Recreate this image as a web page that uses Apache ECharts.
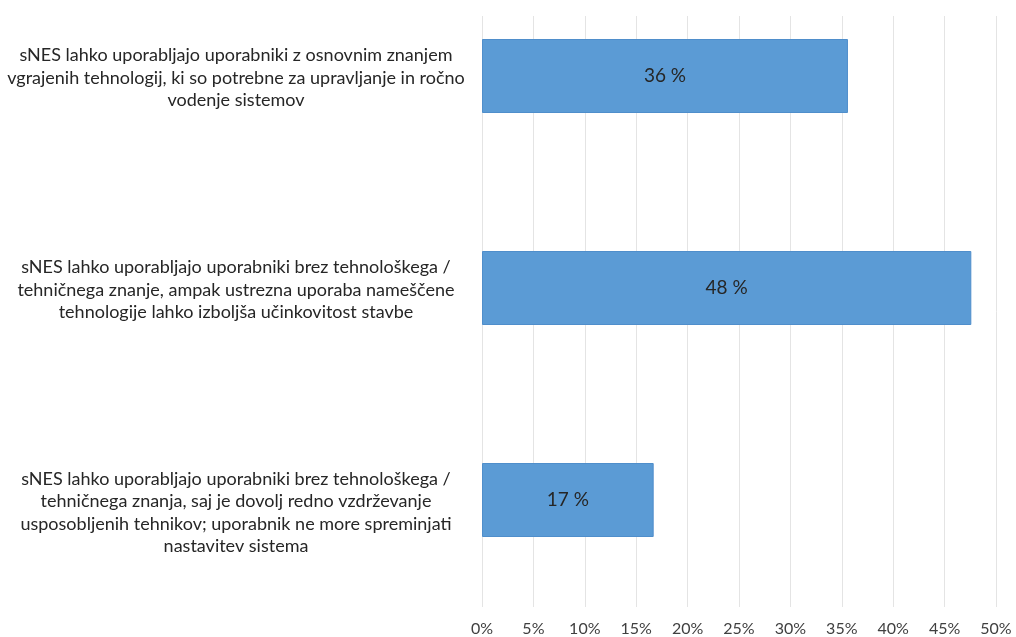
<!DOCTYPE html>
<html>
<head>
<meta charset="utf-8">
<script src="https://cdn.jsdelivr.net/npm/echarts@6/dist/echarts.min.js"></script>
<style>html,body{margin:0;padding:0;background:#fff;}#c{width:1016px;height:637px;}</style>
</head>
<body>
<div id="c"></div>
<script>
const categories = [
  "sNES lahko uporabljajo uporabniki z osnovnim znanjem\nvgrajenih tehnologij, ki so potrebne za upravljanje in ročno\nvodenje sistemov",
  "sNES lahko uporabljajo uporabniki brez tehnološkega /\ntehničnega znanje, ampak ustrezna uporaba nameščene\ntehnologije lahko izboljša učinkovitost stavbe",
  "sNES lahko uporabljajo uporabniki brez tehnološkega /\ntehničnega znanja, saj je dovolj redno vzdrževanje\nusposobljenih tehnikov; uporabnik ne more spreminjati\nnastavitev sistema"
];
const values = [35.6, 47.6, 16.7];
const valueLabels = ["36 %", "48 %", "17 %"];
const tickMin = 0, tickMax = 50, tickStep = 5;

const FONT = 'Lato';
const labelGaps = ['g1', 'g1', 'g3'];
const chart = echarts.init(document.getElementById('c'), null, {renderer: 'canvas'});
chart.setOption({
  animation: false,
  backgroundColor: '#ffffff',
  grid: [
    {left: 482, right: 20, top: -30, bottom: 31, containLabel: false, outerBoundsMode: 'none'},
    {left: 482, right: 20, top: 16, bottom: 30, containLabel: false, outerBoundsMode: 'none'}
  ],
  xAxis: [
    {gridIndex: 0, type: 'value', min: tickMin, max: tickMax, interval: tickStep, show: false},
    {gridIndex: 1, type: 'value', min: tickMin, max: tickMax, interval: tickStep,
     axisLine: {show: false}, axisTick: {show: false},
     splitLine: {show: true, lineStyle: {color: '#e4e4e4', width: 1}},
     axisLabel: {formatter: '{value}%', color: '#404040', fontFamily: FONT, fontSize: 16, margin: 14}}
  ],
  yAxis: [
    {gridIndex: 0, type: 'category', inverse: true,
     data: categories,
     axisLine: {show: false}, axisTick: {show: false}, splitLine: {show: false},
     axisLabel: {
       margin: 246, align: 'center',
       formatter: (v, i) => '{' + labelGaps[i] + '| }\n' + v.split('\n').map(s => '{t|' + s + '}').join('\n'),
       rich: {
         t: {color: '#262626', fontFamily: FONT, fontSize: 18, lineHeight: 22.5, align: 'center'},
         g1: {fontSize: 2, lineHeight: 4, height: 4},
         g3: {fontSize: 2, lineHeight: 25, height: 25}
       }
     }},
    {gridIndex: 1, type: 'value', show: false}
  ],
  series: [{
    type: 'bar', xAxisIndex: 0, yAxisIndex: 0,
    data: values,
    barWidth: 74,
    itemStyle: {color: '#5b9bd5', borderColor: '#4f8ecb', borderWidth: 1},
    label: {show: true, position: 'inside', formatter: p => valueLabels[p.dataIndex],
            color: '#262626', fontFamily: FONT, fontSize: 19}
  }]
});
</script>
</body>
</html>
